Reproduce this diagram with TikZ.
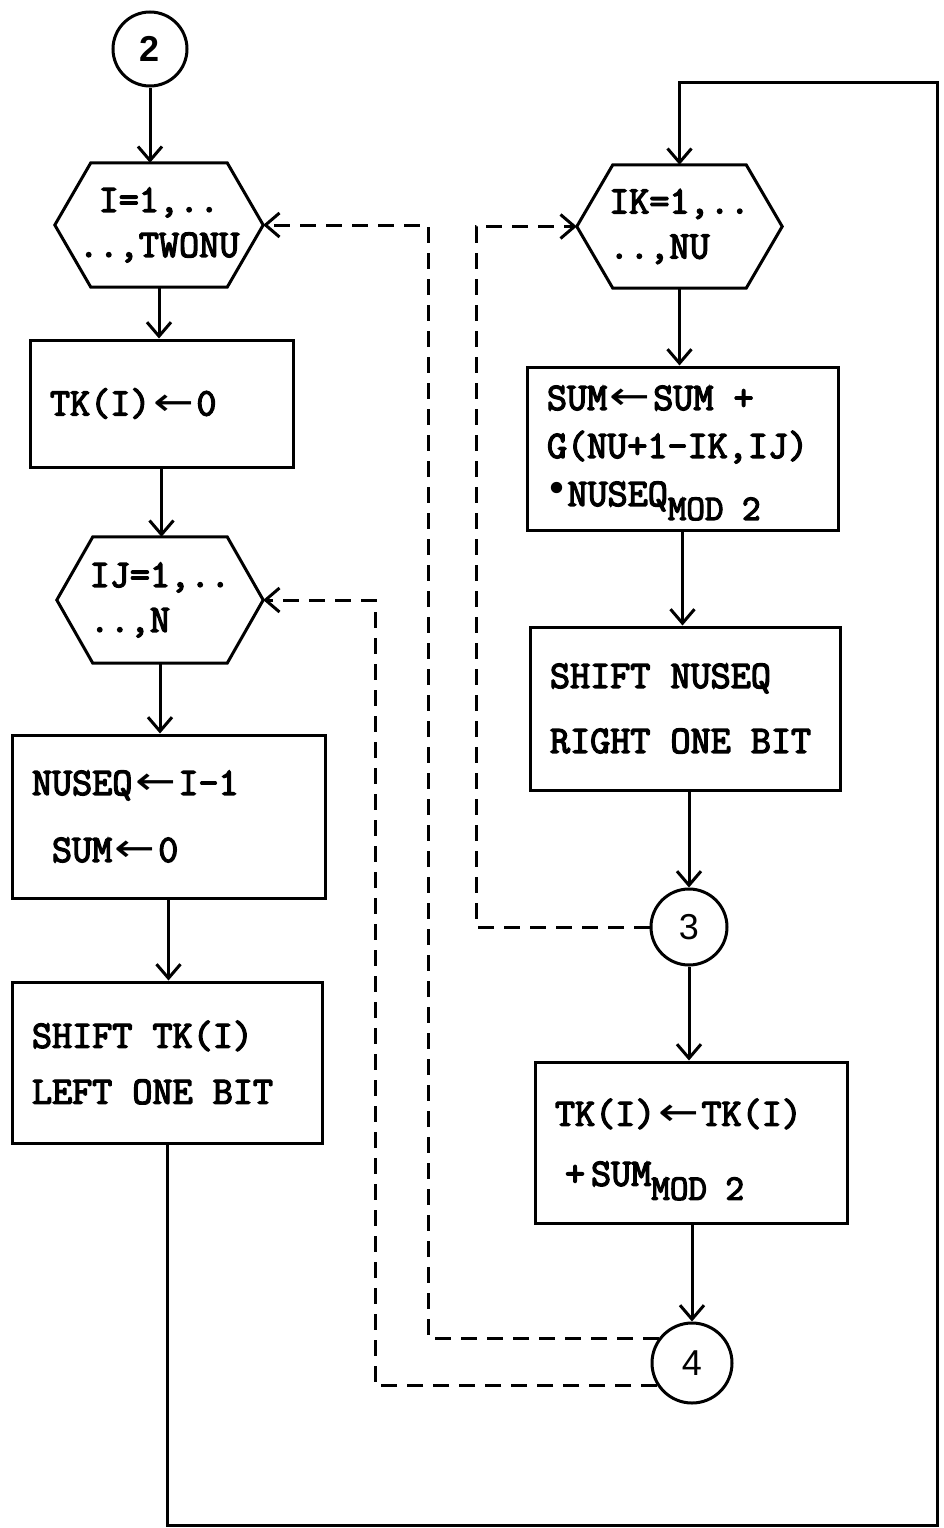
\documentclass[tikz,border=0pt]{standalone}
\usepackage{fontspec}
\usepackage{graphicx}
\usetikzlibrary{arrows.meta}
\newfontfamily\arrfont{DejaVu Sans}
\newfontfamily\hand{Liberation Sans}
\newfontfamily\tw{Latin Modern Mono}[AutoFakeBold=3.5]
\newcommand\lar{\makebox[46pt]{\scalebox{1.25}[1]{\arrfont\mdseries ←}}}
\newcommand\bul{\makebox[0.525em]{\raisebox{3pt}{\arrfont\mdseries •}}}
\newcommand\sbs[1]{\raisebox{-14pt}[0pt][0pt]{\fontsize{36}{36}\selectfont #1}}
\newcommand\hexdraw[1]{\draw[lw] (#1.west) -- ([xshift=36pt]#1.north west) -- ([xshift=-36pt]#1.north east) -- (#1.east) -- ([xshift=-36pt]#1.south east) -- ([xshift=36pt]#1.south west) -- cycle;}
\tikzset{
  lw/.style={line width=3pt, line join=miter},
  box/.style={draw, lw, rectangle, inner xsep=20pt, inner ysep=0pt, align=flush left,
    font=\tw\bfseries\fontsize{39}{#1}\selectfont},
  hexn/.style={inner sep=0pt, font=\tw\bfseries\fontsize{39}{45}\selectfont},
  circ/.style={draw, lw, circle, inner sep=0pt, font=\hand\fontsize{36}{36}\selectfont},
  conn/.style={lw, -{Straight Barb[length=14pt,width=24pt]}},
  dsh/.style={lw, dash pattern=on 16pt off 10pt, -{Straight Barb[length=14pt,width=24pt]}},
}
\begin{document}
\begin{tikzpicture}[x=1pt,y=-1pt]
\fill[white] (0,0) rectangle (943,1528);
\useasboundingbox (0,0) rectangle (943,1528);

% left column
\node[circ, minimum size=74pt] (c2) at (150,49) {\bfseries 2};
\node[hexn, minimum width=208pt, minimum height=124pt, align=center] (hI) at (159,225) {I=1,..\\..,TWONU};
\hexdraw{hI}
\node[box=60, text width=223pt, minimum height=127pt] (tk0) at (161.5,403.5) {TK(I)\lar 0};
\node[hexn, minimum width=206pt, minimum height=126pt, align=flush left] (hIJ) at (160,600) {IJ=1,..\\..,N};
\hexdraw{hIJ}
\node[box=67, text width=273pt, minimum height=163pt] (nus) at (168.5,816.5) {NUSEQ\lar I-1\\\hspace*{20pt}SUM\lar 0};
\node[box=56, text width=270pt, minimum height=161pt] (sTK) at (167,1062.5) {SHIFT TK(I)\\LEFT ONE BIT};

% right column
\node[hexn, minimum width=205pt, minimum height=123pt, align=flush left] (hIK) at (679.5,226.5) {IK=1,..\\..,NU};
\hexdraw{hIK}
\node[box=48, text width=271pt, minimum height=163pt] (sum) at (682.5,448.5) {SUM\lar SUM +\\G(NU+1-IK,IJ)\\\bul NUSEQ\sbs{MOD 2}};
\node[box=65, text width=270pt, minimum height=163pt] (shN) at (685,708.5) {SHIFT NUSEQ\\RIGHT ONE BIT};
\node[circ, minimum size=76pt] (c3) at (689,927) {3};
\node[box=60, text width=272pt, minimum height=161pt] (tkb) at (691,1142.5) {TK(I)\lar TK(I)\\\hspace*{10pt}+\hspace{6pt}SUM\sbs{MOD 2}};
\node[circ, minimum size=80pt] (c4) at (692,1363) {4};

% loop corners
\coordinate (cBR) at (937,1525);
\coordinate (cTR) at (937,82);
\coordinate (xA) at (428,0);
\coordinate (xB) at (375,0);
\coordinate (xC) at (476,0);

% solid connectors
\draw[conn] (c2.south) -- (c2.south |- hI.north);
\draw[conn] (hI.south) -- (hI.south |- tk0.north);
\draw[conn] (tk0.south) -- (tk0.south |- hIJ.north);
\draw[conn] (hIJ.south) -- (hIJ.south |- nus.north);
\draw[conn] (nus.south) -- (nus.south |- sTK.north);
\draw[conn] (sTK.south) |- (cBR) -- (cTR) -| (hIK.north);
\draw[conn] (hIK.south) -- (hIK.south |- sum.north);
\draw[conn] (sum.south) -- (sum.south |- shN.north);
\draw[conn] (c3.north |- shN.south) -- (c3.north);
\draw[conn] (c3.south) -- (c3.south |- tkb.north);
\draw[conn] (c4.north |- tkb.south) -- (c4.north);

% dashed returns
\draw[dsh] (c3.west) -- (c3.west -| xC) |- (hIK.west);
\draw[dsh] (c4.143) -- (c4.143 -| xA) |- (hI.east);
\draw[dsh] (c4.213) -- (c4.213 -| xB) |- (hIJ.east);
\end{tikzpicture}
\end{document}
